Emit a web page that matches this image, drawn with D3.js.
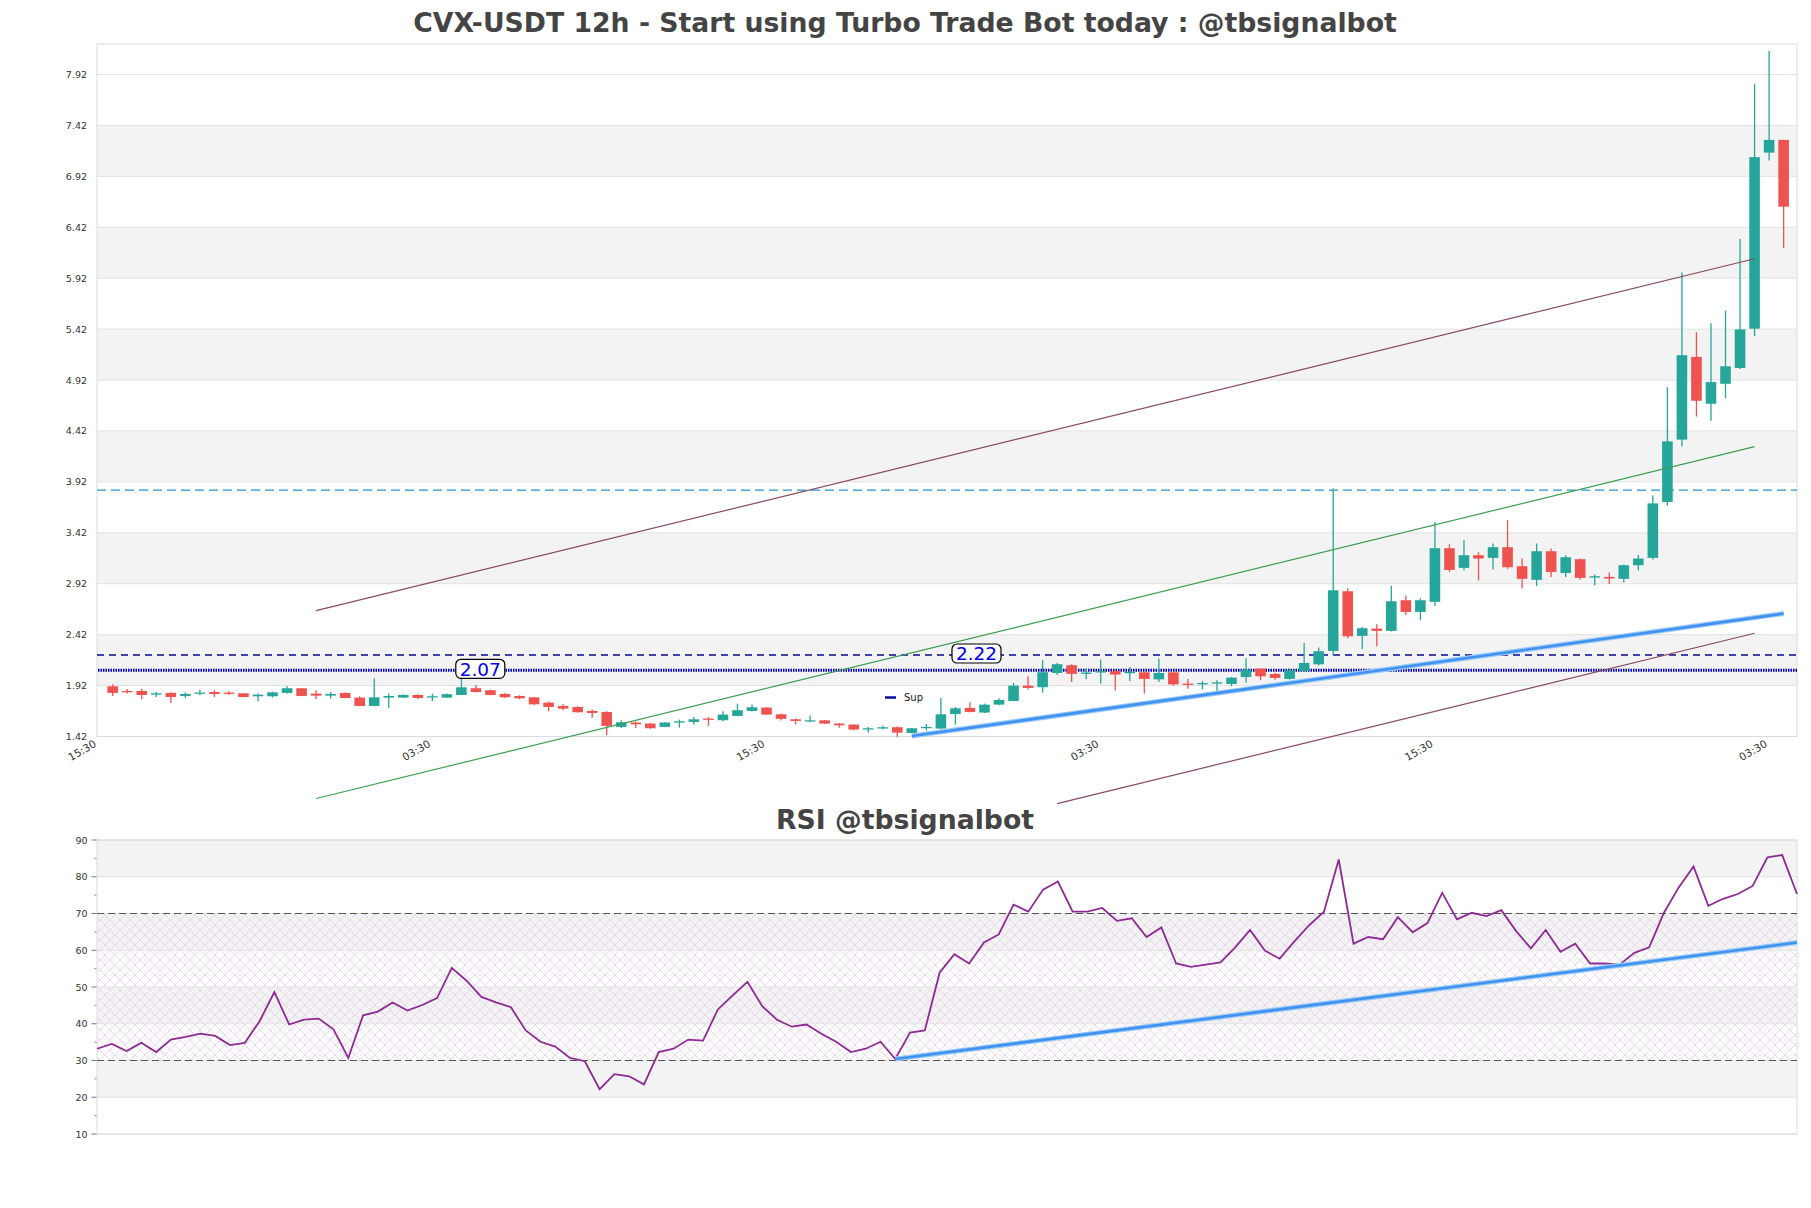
<!DOCTYPE html>
<html><head><meta charset="utf-8">
<script src="https://cdn.jsdelivr.net/npm/d3@7/dist/d3.min.js"></script>
<style>body{margin:0;background:#fff;} text{font-family:"DejaVu Sans",sans-serif;}</style>
</head><body><svg id="c" width="1811" height="1208"></svg>
<script>
const opens  = [1.913,1.867,1.867,1.831,1.848,1.818,1.841,1.857,1.851,1.844,1.815,1.815,1.848,1.894,1.841,1.821,1.848,1.802,1.720,1.802,1.802,1.828,1.808,1.802,1.828,1.894,1.874,1.838,1.818,1.805,1.753,1.720,1.710,1.671,1.661,1.514,1.557,1.547,1.514,1.557,1.563,1.596,1.580,1.622,1.671,1.704,1.638,1.589,1.573,1.579,1.547,1.537,1.491,1.501,1.511,1.455,1.501,1.498,1.641,1.701,1.655,1.733,1.769,1.920,1.904,2.044,2.120,2.041,2.054,2.061,2.044,2.050,1.981,2.050,1.939,1.932,1.939,1.936,2.004,2.086,2.034,1.985,2.063,2.129,2.260,2.846,2.408,2.480,2.457,2.758,2.643,2.742,3.269,3.076,3.200,3.174,3.279,3.092,2.958,3.239,3.026,3.161,2.981,2.987,2.968,3.102,3.174,3.722,4.335,5.147,4.687,4.883,5.038,5.424,7.153,7.278];
const highs  = [1.933,1.887,1.890,1.857,1.854,1.851,1.880,1.874,1.867,1.846,1.841,1.861,1.913,1.896,1.874,1.857,1.851,1.815,1.992,1.841,1.834,1.834,1.841,1.841,1.998,1.926,1.880,1.848,1.825,1.808,1.763,1.736,1.717,1.684,1.667,1.580,1.567,1.553,1.560,1.586,1.612,1.612,1.668,1.743,1.733,1.707,1.645,1.596,1.625,1.583,1.553,1.540,1.514,1.527,1.517,1.504,1.543,1.799,1.710,1.756,1.743,1.796,1.946,2.012,2.169,2.143,2.130,2.087,2.175,2.067,2.103,2.054,2.185,2.050,1.985,1.965,1.972,2.004,2.188,2.088,2.044,2.086,2.338,2.293,3.855,2.876,2.496,2.522,2.899,2.804,2.778,3.527,3.308,3.347,3.229,3.315,3.544,3.167,3.315,3.265,3.200,3.167,3.010,3.030,3.108,3.201,3.787,4.849,5.975,5.390,5.478,5.603,6.304,7.826,8.151,7.278];
const lows   = [1.818,1.841,1.785,1.808,1.749,1.799,1.825,1.808,1.828,1.805,1.766,1.802,1.841,1.815,1.789,1.792,1.795,1.718,1.718,1.700,1.798,1.789,1.769,1.798,1.826,1.851,1.825,1.798,1.785,1.730,1.667,1.677,1.654,1.605,1.432,1.504,1.504,1.497,1.511,1.507,1.537,1.524,1.570,1.619,1.665,1.632,1.576,1.540,1.560,1.543,1.507,1.481,1.458,1.488,1.416,1.452,1.481,1.491,1.537,1.655,1.651,1.727,1.766,1.881,1.851,2.025,1.956,1.982,1.940,1.871,1.965,1.841,1.955,1.919,1.890,1.880,1.857,1.916,1.949,1.972,1.978,1.978,2.053,2.116,2.218,2.388,2.277,2.306,2.450,2.614,2.562,2.702,3.036,3.053,2.954,3.059,3.066,2.873,2.899,2.987,2.987,2.961,2.902,2.918,2.932,3.050,3.158,3.685,4.267,4.561,4.521,4.741,5.028,5.350,7.075,6.219];
const closes = [1.848,1.855,1.828,1.844,1.808,1.838,1.851,1.838,1.841,1.808,1.831,1.854,1.894,1.818,1.821,1.838,1.798,1.720,1.805,1.818,1.828,1.798,1.815,1.835,1.903,1.857,1.828,1.805,1.795,1.736,1.710,1.694,1.658,1.651,1.524,1.560,1.540,1.501,1.557,1.570,1.589,1.586,1.635,1.678,1.707,1.635,1.593,1.573,1.579,1.547,1.530,1.488,1.501,1.511,1.458,1.501,1.514,1.638,1.697,1.661,1.733,1.779,1.920,1.897,2.051,2.130,2.035,2.048,2.061,2.028,2.054,1.985,2.044,1.932,1.932,1.945,1.952,1.998,2.076,2.011,1.995,2.070,2.142,2.257,2.856,2.404,2.483,2.457,2.748,2.643,2.758,3.269,3.056,3.200,3.167,3.279,3.082,2.968,3.239,3.036,3.180,2.977,2.994,2.971,3.102,3.167,3.709,4.318,5.164,4.717,4.900,5.055,5.417,7.109,7.278,6.622];
const rsiValues = [33.2,34.5,32.6,34.8,32.3,35.7,36.4,37.3,36.7,34.2,34.8,40.7,48.6,39.8,41.1,41.4,38.5,30.7,42.3,43.3,45.8,43.6,45.1,47.0,55.2,51.7,47.3,45.8,44.5,38.2,35.1,33.8,30.7,29.8,22.2,26.3,25.7,23.5,32.3,33.2,35.7,35.4,43.9,47.7,51.4,44.8,41.1,39.2,39.8,37.3,35.1,32.3,33.2,35.1,30.4,37.6,38.2,53.9,58.9,56.4,62.1,64.3,72.4,70.5,76.5,78.7,70.5,70.5,71.5,68.0,68.7,63.6,66.2,56.4,55.5,56.1,56.7,60.8,65.5,59.9,57.7,62.4,66.8,70.5,84.7,61.8,63.6,63.0,69.0,64.9,67.4,75.6,68.4,70.2,69.3,70.9,65.2,60.5,65.5,59.6,61.8,56.4,56.4,56.1,59.3,60.8,70.2,77.1,82.8,72.1,74.0,75.3,77.5,85.3,85.9,75.3];
const priceTicks = [1.42,1.92,2.42,2.92,3.42,3.92,4.42,4.92,5.42,5.92,6.42,6.92,7.42,7.92];
const rsiTicks = [10,20,30,40,50,60,70,80,90];
const timeTickPos = [-1.04,21.96,44.96,67.96,90.96,113.96];
const timeTickLabels = ["15:30","03:30","15:30","03:30","15:30","03:30"];
const resistanceLevel = 3.84;
const supLevelDashed = 2.22;
const supLevelDotted = 2.07;
const channelUpper = [[14,2.656],[113,6.111]];
const channelMid   = [[14,0.811],[113,4.266]];
const channelLower = [[65,0.761],[113,2.434]];
const supportTrend = [[55,1.425],[115,2.627]];
const rsiTrend = [[54,30.4],[115,62.1]];
const rsiLevels = [70,30];

const svg = d3.select("#c");
svg.append("rect").attr("width",1811).attr("height",1208).attr("fill","#fff");
const L = 97, R = 1797, T = 44, B = 736.5;
const x = d3.scaleLinear().domain([-1.08,115.92]).range([L,R]);
const y = d3.scaleLinear().domain([1.42,8.2195]).range([B,T]);
const RT = 840, RB = 1134;
const xr = d3.scaleLinear().domain([0,115]).range([L,R]);
const yr = d3.scaleLinear().domain([10,90]).range([RB,RT]);

const defs = svg.append("defs");
const pat = defs.append("pattern").attr("id","hatch").attr("patternUnits","userSpaceOnUse").attr("width",10).attr("height",10);
pat.append("path").attr("d","M0,0L10,10M10,0L0,10M-5,5L5,15M5,-5L15,5M-5,5L5,-5M5,15L15,5").attr("stroke","#e6d0ea").attr("stroke-width",0.8).attr("fill","none");

const g = svg.append("g");
for (let k=0;k<priceTicks.length-1;k++){
  if (k%2===0) continue;
  g.append("rect").attr("x",L).attr("width",R-L).attr("y",y(priceTicks[k+1])).attr("height",y(priceTicks[k])-y(priceTicks[k+1])).attr("fill","#f3f3f3");
}
priceTicks.forEach(v=>{
  g.append("line").attr("x1",L).attr("x2",R).attr("y1",y(v)).attr("y2",y(v)).attr("stroke","#e2e2e2").attr("stroke-width",1);
});
g.append("rect").attr("x",L).attr("y",T).attr("width",R-L).attr("height",B-T).attr("fill","none").attr("stroke","#dcdcdc").attr("stroke-width",1);

priceTicks.forEach(v=>{
  g.append("text").attr("x",87).attr("y",y(v)+3.5).attr("text-anchor","end").attr("font-size",9.5).attr("fill","#333").text(v.toFixed(2));
});
timeTickPos.forEach((p,i)=>{
  g.append("text").attr("transform",`translate(${x(p)-0.5},746) rotate(-30)`).attr("text-anchor","end").attr("font-size",10.5).attr("fill","#333").text(timeTickLabels[i]);
});

g.append("line").attr("x1",L).attr("x2",R).attr("y1",y(resistanceLevel)).attr("y2",y(resistanceLevel)).attr("stroke","#2496d2").attr("stroke-width",1.2).attr("stroke-dasharray","9,5");
g.append("line").attr("x1",L).attr("x2",R).attr("y1",y(supLevelDashed)).attr("y2",y(supLevelDashed)).attr("stroke","#0a0a8c").attr("stroke-width",1.3).attr("stroke-dasharray","7,5");
g.append("line").attr("x1",L+1).attr("x2",R).attr("y1",y(supLevelDotted)).attr("y2",y(supLevelDotted)).attr("stroke","#0000b8").attr("stroke-width",3).attr("stroke-dasharray","1.5,1");

const cg = svg.append("g");
const bw = 10.6;
closes.forEach((c,i)=>{
  const o = opens[i], up = c>=o;
  const col = up ? "#26a69a" : "#ef5350";
  cg.append("line").attr("x1",x(i)).attr("x2",x(i)).attr("y1",y(highs[i])).attr("y2",y(lows[i])).attr("stroke",col).attr("stroke-width",1.3);
  const top = y(Math.max(o,c)), bot = y(Math.min(o,c));
  cg.append("rect").attr("x",x(i)-bw/2).attr("width",bw).attr("y",top).attr("height",Math.max(1.3,bot-top)).attr("fill",col);
});

const line = d3.line().x(d=>x(d[0])).y(d=>y(d[1]));
svg.append("path").attr("d",line(channelUpper)).attr("stroke","#8a4a60").attr("stroke-width",1.2).attr("fill","none");
svg.append("path").attr("d",line(channelLower)).attr("stroke","#8a4a60").attr("stroke-width",1.2).attr("fill","none");
svg.append("path").attr("d",line(channelMid)).attr("stroke","#3c9f52").attr("stroke-width",1.2).attr("fill","none");
svg.append("path").attr("d",line(supportTrend)).attr("stroke","#9ccaf8").attr("stroke-width",5).attr("fill","none");
svg.append("path").attr("d",line(supportTrend)).attr("stroke","#3f92ef").attr("stroke-width",2.6).attr("fill","none");

function boxLabel(cx, cy, txt){
  const w = 49, h = 19;
  svg.append("rect").attr("x",cx-w/2).attr("y",cy-h/2).attr("width",w).attr("height",h).attr("rx",5).attr("fill","#fff").attr("stroke","#000").attr("stroke-width",1.2);
  svg.append("text").attr("x",cx).attr("y",cy+6.8).attr("text-anchor","middle").attr("font-size",18.5).attr("fill","#0000ee").text(txt);
}
boxLabel(x(25.3), y(supLevelDotted)-1.5, supLevelDotted.toFixed(2));
boxLabel(x(59.45), y(supLevelDashed)-1.5, supLevelDashed.toFixed(2));

svg.append("line").attr("x1",885).attr("x2",896).attr("y1",697.5).attr("y2",697.5).attr("stroke","#0a0a9c").attr("stroke-width",2.5);
svg.append("text").attr("x",904).attr("y",701).attr("font-size",10).attr("fill","#222").text("Sup");

svg.append("text").attr("x",905).attr("y",32).attr("text-anchor","middle").attr("font-size",26.7).attr("font-weight","bold").attr("fill","#444").text("CVX-USDT 12h - Start using Turbo Trade Bot today : @tbsignalbot");
svg.append("text").attr("x",905).attr("y",829).attr("text-anchor","middle").attr("font-size",26.7).attr("font-weight","bold").attr("fill","#444").text("RSI @tbsignalbot");

const rg = svg.append("g");
[[80,90],[60,70],[40,50],[20,30]].forEach(b=>{
  rg.append("rect").attr("x",L).attr("width",R-L).attr("y",yr(b[1])).attr("height",yr(b[0])-yr(b[1])).attr("fill","#f3f3f3");
});
rg.append("rect").attr("x",L).attr("width",R-L).attr("y",yr(70)).attr("height",yr(30)-yr(70)).attr("fill","url(#hatch)");
rsiTicks.forEach(v=>{
  rg.append("line").attr("x1",L).attr("x2",R).attr("y1",yr(v)).attr("y2",yr(v)).attr("stroke","#e2e2e2");
  rg.append("line").attr("x1",L-5.5).attr("x2",L).attr("y1",yr(v)).attr("y2",yr(v)).attr("stroke","#555").attr("stroke-width",0.8);
  rg.append("text").attr("x",87.5).attr("y",yr(v)+3.5).attr("text-anchor","end").attr("font-size",9.5).attr("fill","#333").text(v);
});
rsiTicks.slice(0,-1).forEach(v=>{
  rg.append("line").attr("x1",L-3).attr("x2",L).attr("y1",yr(v+5)).attr("y2",yr(v+5)).attr("stroke","#555").attr("stroke-width",0.6);
});
rg.append("rect").attr("x",L).attr("y",RT).attr("width",R-L).attr("height",RB-RT).attr("fill","none").attr("stroke","#dcdcdc");
rsiLevels.forEach(v=>{
  rg.append("line").attr("x1",L).attr("x2",R).attr("y1",yr(v)).attr("y2",yr(v)).attr("stroke","#555").attr("stroke-width",1.2).attr("stroke-dasharray","7,4");
});
const rline = d3.line().x((d,i)=>xr(i)).y(d=>yr(d));
rg.append("path").attr("d",rline(rsiValues)).attr("stroke","#8e2a94").attr("stroke-width",1.8).attr("fill","none");
const tline = d3.line().x(d=>xr(d[0])).y(d=>yr(d[1]));
rg.append("path").attr("d",tline(rsiTrend)).attr("stroke","#9ccaf8").attr("stroke-width",5).attr("fill","none");
rg.append("path").attr("d",tline(rsiTrend)).attr("stroke","#3f92ef").attr("stroke-width",2.6).attr("fill","none");
</script></body></html>
